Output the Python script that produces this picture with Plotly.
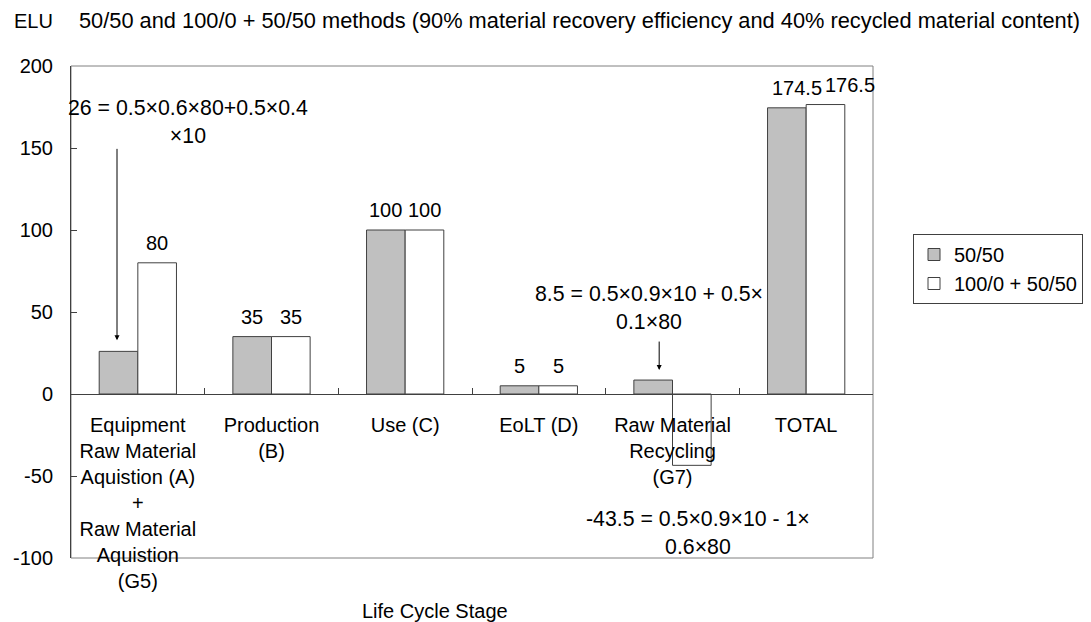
import plotly.graph_objects as go

categories = [
    "Equipment<br>Raw Material<br>Aquistion (A)<br>+<br>Raw Material<br>Aquistion<br>(G5)",
    "Production<br>(B)",
    "Use (C)",
    "EoLT (D)",
    "Raw Material<br>Recycling<br>(G7)",
    "TOTAL",
]
series_names = ["50/50", "100/0 + 50/50"]
values_5050 = [26, 35, 100, 5, 8.5, 174.5]
values_100050 = [80, 35, 100, 5, -43.5, 176.5]
labels_5050 = ["", "35", "100", "5", "", "174.5"]
labels_100050 = ["80", "35", "100", "5", "", "176.5"]
y_ticks = [-100, -50, 0, 50, 100, 150, 200]
y_ticktext = ["-100", "-50", "0", "50", "100", "150", "200"]

y_label = "ELU"
title_text = "50/50 and 100/0 + 50/50 methods (90% material recovery efficiency and 40% recycled material content)"
x_title = "Life Cycle Stage"
note_a = "26 = 0.5×0.6×80+0.5×0.4<br>×10"
note_g7_pos = "8.5 = 0.5×0.9×10 + 0.5×<br>0.1×80"
note_g7_neg = "-43.5 = 0.5×0.9×10 - 1×<br>0.6×80"

# ---------------- style / layout ----------------
FONT = "Liberation Sans, Arial, sans-serif"
FS = 20
FS_NOTE = 21.3
FS_TITLE = 21.8
EDGE = "#404040"
OFF = 8  # page body margin

W, H = 1091, 622 - OFF
# plot area in window pixels
PX0, PX1, PY0, PY1 = 71, 873, 66, 558
ML, MT = PX0 - OFF, PY0 - OFF
MR, MB = W - (PX1 - OFF), H - (PY1 - OFF)
plot_w = PX1 - PX0
plot_h = PY1 - PY0
cat_px = plot_w / len(categories)
bargap = 0.422
bar_px = (1 - bargap) * cat_px / 2


def px_x(xw):
    return (xw - PX0) / plot_w


def px_y(yw):
    return (PY1 - yw) / plot_h


label_extra_shift = {(0, 5): 10, (1, 5): 25}

fig = go.Figure()
fig.add_trace(go.Bar(x=categories, y=values_5050, name=series_names[0],
                     marker=dict(color="#C0C0C0", line=dict(color=EDGE, width=1))))
fig.add_trace(go.Bar(x=categories, y=values_100050, name=series_names[1],
                     marker=dict(color="#FFFFFF", line=dict(color=EDGE, width=1))))

annotations = []
for s, (labels, vals, sign) in enumerate(((labels_5050, values_5050, -1),
                                           (labels_100050, values_100050, 1))):
    for i, (c, v, t) in enumerate(zip(categories, vals, labels)):
        if t:
            annotations.append(dict(x=c, y=v, xref="x", yref="y", text=t, showarrow=False,
                                    xshift=sign * bar_px / 2 + label_extra_shift.get((s, i), 0),
                                    yanchor="bottom", yshift=7,
                                    font=dict(size=FS, color="#000")))

# formula notes
annotations.append(dict(x=categories[0], y=values_5050[0] + 140, xref="x", yref="y",
                        text=note_a, showarrow=False, xshift=50, yanchor="middle",
                        font=dict(size=FS_NOTE, color="#000")))
annotations.append(dict(x=categories[0], y=values_5050[0], xref="x", yref="y", text="",
                        showarrow=True, ax=0, ay=-204, axref="pixel", ayref="pixel",
                        xshift=-bar_px / 2 - 1.5, standoff=11, arrowhead=2, arrowsize=1,
                        arrowwidth=1, arrowcolor="#000"))
annotations.append(dict(x=categories[4], y=values_5050[4] + 44, xref="x", yref="y",
                        text=note_g7_pos, showarrow=False, xshift=-24, yanchor="middle",
                        font=dict(size=FS_NOTE, color="#000")))
annotations.append(dict(x=categories[4], y=values_5050[4], xref="x", yref="y", text="",
                        showarrow=True, ax=0, ay=-40, axref="pixel", ayref="pixel",
                        xshift=-bar_px / 2 + 6, standoff=10, arrowhead=2, arrowsize=1,
                        arrowwidth=1, arrowcolor="#000"))
annotations.append(dict(x=categories[4], y=-85, xref="x", yref="y",
                        text=note_g7_neg, showarrow=False, xshift=25, yanchor="middle",
                        font=dict(size=FS_NOTE, color="#000")))

# titles
annotations.append(dict(x=px_x(12), y=px_y(21), xref="paper", yref="paper",
                        text=y_label, showarrow=False, xanchor="left", yanchor="middle",
                        font=dict(size=FS, color="#000")))
annotations.append(dict(x=px_x(77), y=px_y(21), xref="paper", yref="paper",
                        text=title_text, showarrow=False, xanchor="left", yanchor="middle",
                        font=dict(size=FS_TITLE, color="#000")))
annotations.append(dict(x=px_x(435), y=px_y(611), xref="paper", yref="paper",
                        text=x_title, showarrow=False, xanchor="center", yanchor="middle",
                        font=dict(size=FS, color="#000")))

ymin, ymax = -100, 200
zero_pos = (0 - ymin) / (ymax - ymin)

fig.update_layout(
    width=W, height=H,
    margin=dict(l=ML, r=MR, t=MT, b=MB, autoexpand=False),
    paper_bgcolor="white", plot_bgcolor="white",
    font=dict(family=FONT, size=FS, color="#000"),
    barmode="group", bargap=bargap, bargroupgap=0,
    showlegend=True,
    legend=dict(x=px_x(913), y=px_y(234), xanchor="left", yanchor="top",
                bordercolor="#404040", borderwidth=1, bgcolor="white",
                font=dict(size=FS, family=FONT), tracegroupgap=0, itemwidth=30),
    xaxis=dict(anchor="free", position=zero_pos, range=[-0.5, len(categories) - 0.5],
               autorange=False, showline=True, linecolor=EDGE, linewidth=1,
               ticks="inside", tickson="boundaries", ticklen=6, tickcolor=EDGE,
               showgrid=False, zeroline=False, tickfont=dict(size=FS), ticklabelstandoff=13),
    yaxis=dict(range=[ymin, ymax], tickvals=y_ticks, ticktext=y_ticktext, showline=True,
               linecolor=EDGE, linewidth=1, ticks="inside", ticklen=6, tickcolor=EDGE,
               showgrid=False, zeroline=False, tickfont=dict(size=FS), ticklabelstandoff=13),
    annotations=annotations,
    shapes=[dict(type="rect", xref="paper", yref="paper", x0=0, x1=1, y0=0, y1=1,
                 line=dict(color="#808080", width=1), layer="below")],
)

fig.write_html("out.html")
